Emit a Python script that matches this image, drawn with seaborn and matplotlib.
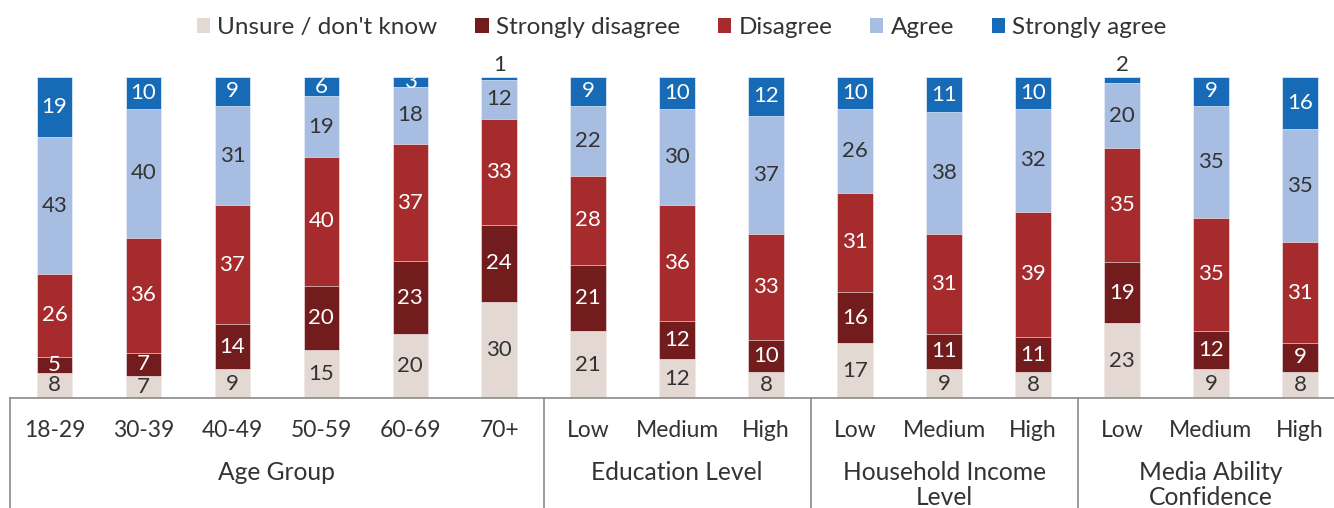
import matplotlib
matplotlib.use("Agg")
import matplotlib.pyplot as plt
import matplotlib.transforms as mtransforms
from matplotlib.patches import Patch
import numpy as np
import pandas as pd
import seaborn as sns

# ---------------- data ----------------
groups = ["Age Group"] * 6 + ["Education Level"] * 3 + ["Household Income\nLevel"] * 3 + ["Media Ability\nConfidence"] * 3
categories = ["18-29", "30-39", "40-49", "50-59", "60-69", "70+",
              "Low", "Medium", "High",
              "Low", "Medium", "High",
              "Low", "Medium", "High"]
series_names = ["Unsure / don't know", "Strongly disagree", "Disagree", "Agree", "Strongly agree"]
unsure = [8, 7, 9, 15, 20, 30, 21, 12, 8, 17, 9, 8, 23, 9, 8]
strongly_disagree = [5, 7, 14, 20, 23, 24, 21, 12, 10, 16, 11, 11, 19, 12, 9]
disagree = [26, 36, 37, 40, 37, 33, 28, 36, 33, 31, 31, 39, 35, 35, 31]
agree = [43, 40, 31, 19, 18, 12, 22, 30, 37, 26, 38, 32, 20, 35, 35]
strongly_agree = [19, 10, 9, 6, 3, 1, 9, 10, 12, 10, 11, 10, 2, 9, 16]

colors = ["#E3D8D2", "#721C1E", "#A52B2C", "#A7BDE2", "#176AB5"]
text_colors = ["#333333", "white", "white", "#333333", "white"]

# ---------------- style ----------------
sns.set_theme(style="white")
plt.rcParams["font.family"] = ["Lato", "DejaVu Sans"]
TXT = "#333333"

values = np.array([unsure, strongly_disagree, disagree, agree, strongly_agree], dtype=float)
totals = values.sum(axis=0)
share = values / totals * 100.0          # 100% stacked, as in the reference
cum = np.cumsum(share, axis=0)

keys = [f"{i}" for i in range(len(categories))]

fig = plt.figure(figsize=(13.34, 5.08), dpi=100)
W, H = 1334, 508
ax = fig.add_axes([10 / W, (H - 398) / H, 1324 / W, (398 - 77) / H])

# draw from top-most cumulative down so that lower segments overlay
for s in reversed(range(len(series_names))):
    df = pd.DataFrame({"key": keys, "top": cum[s]})
    sns.barplot(data=df, x="key", y="top", order=keys, color=colors[s],
                saturation=1, width=0.4, ax=ax, edgecolor="white",
                linewidth=0.4, errorbar=None)

ax.set_xlim(-0.5, -0.5 + 1324 / 88.96)
ax.set_ylim(0, 100)

# value labels
for i in range(len(categories)):
    for s in range(len(series_names)):
        v = values[s, i]
        low = cum[s, i] - share[s, i]
        mid = low + share[s, i] / 2
        if v <= 2:
            ax.text(i, 100.6, f"{int(v)}", ha="center", va="bottom",
                    fontsize=16, color=TXT)
        else:
            ax.text(i, mid, f"{int(v)}", ha="center", va="center",
                    fontsize=16, color=text_colors[s])

# axes cosmetics
for sp in ["top", "right", "left"]:
    ax.spines[sp].set_visible(False)
ax.spines["bottom"].set_color("#8a8a8a")
ax.spines["bottom"].set_linewidth(1.2)
ax.set_yticks([])
ax.set_ylabel("")
ax.set_xlabel("")
ax.set_xticks(range(len(categories)))
ax.set_xticklabels(categories, fontsize=16.5, color=TXT)
ax.tick_params(axis="x", length=0, pad=16)

trans = mtransforms.blended_transform_factory(ax.transData, ax.transAxes)
# group separators
for xsep in [-0.5, 5.5, 8.5, 11.5]:
    ax.plot([xsep, xsep], [0, -0.36], transform=trans, color="#8a8a8a",
            lw=1.2, clip_on=False)

# group labels
group_names = []
for g in groups:
    if g not in group_names:
        group_names.append(g)
for g in group_names:
    idx = [i for i, gg in enumerate(groups) if gg == g]
    cx = (idx[0] + idx[-1]) / 2
    ax.text(cx, -(461 - 398) / 321, g, transform=trans, ha="center", va="top",
            fontsize=17.7, color=TXT, linespacing=1.1)

# legend
handles = [Patch(facecolor=c, edgecolor="none") for c in colors]
fig.legend(handles, series_names, loc="upper center", bbox_to_anchor=(0.511, 1.01),
           ncol=5, frameon=False, fontsize=17.5, handlelength=0.55,
           handleheight=0.55, handletextpad=0.3, columnspacing=1.55,
           labelcolor=TXT)

fig.savefig("out.png", dpi=100)
